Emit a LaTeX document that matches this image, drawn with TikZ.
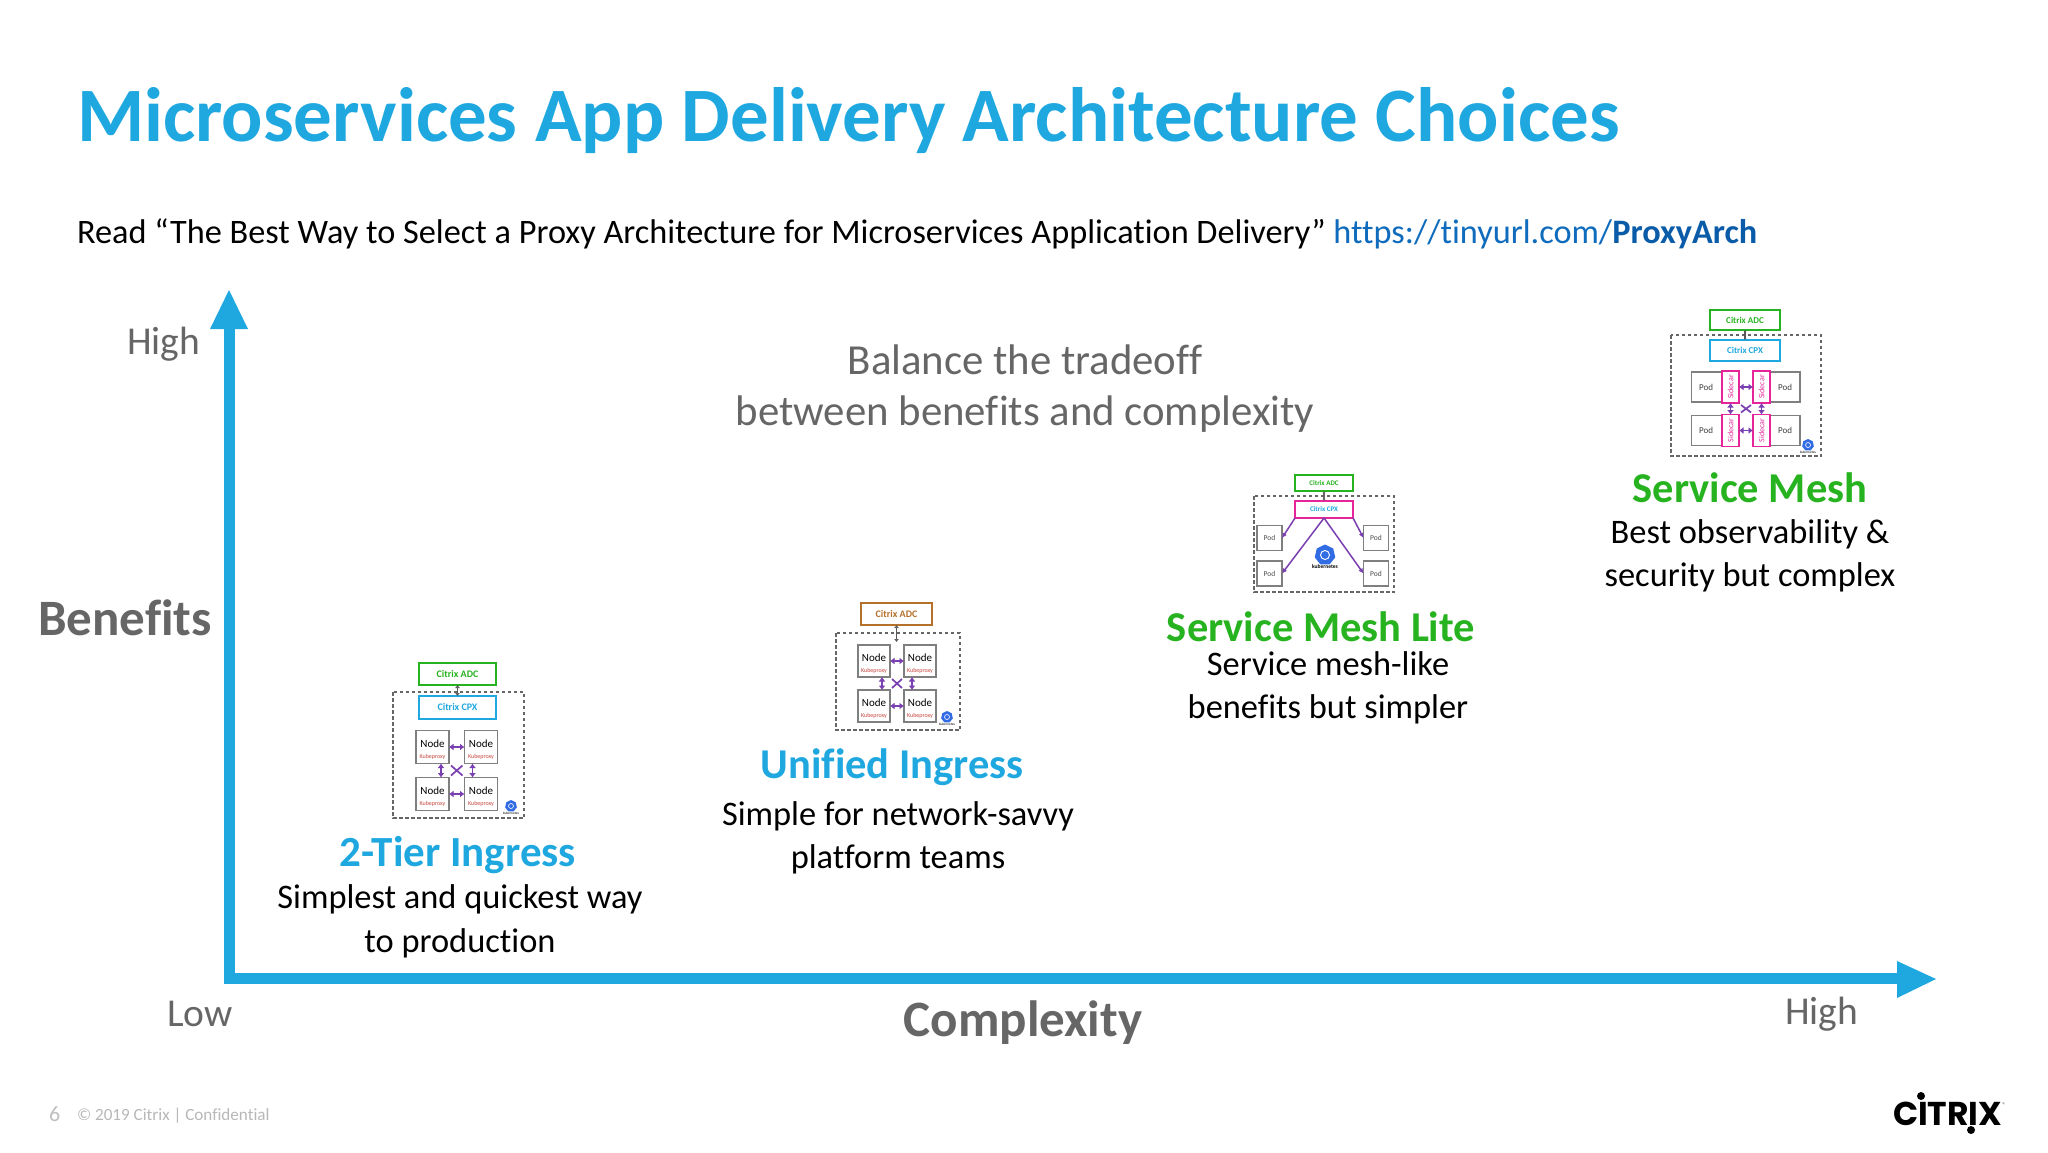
\documentclass[tikz,border=0pt]{standalone}
\usepackage{fontspec}
\setmainfont[Ligatures=CommonOff]{Carlito}
\newfontfamily\logofont{Poppins}
\usetikzlibrary{shapes.geometric,arrows.meta,calc,positioning}
\definecolor{cxblue}{HTML}{1FA8E0}
\definecolor{cxgreen}{HTML}{27B31F}
\definecolor{cxgray}{HTML}{666666}
\definecolor{linkblue}{HTML}{0F6CBD}
\definecolor{linkdark}{HTML}{0A5CA8}
\definecolor{boxgray}{HTML}{7F7F7F}
\definecolor{linkpurple}{HTML}{7A3FB0}
\definecolor{sidepink}{HTML}{E6259B}
\definecolor{k8sblue}{HTML}{326CE5}
\definecolor{adcbrown}{HTML}{B5702A}
\definecolor{kubered}{HTML}{C8443C}
\newcommand{\fsz}[1]{\fontsize{#1}{#1}\selectfont}
\tikzset{
  txt/.style={inner sep=0pt,outer sep=0pt,anchor=base},
  txtw/.style={inner sep=0pt,outer sep=0pt,anchor=base west},
  bodytxt/.style={txt,font=\fsz{34.4},text=black},
  headtxt/.style={txt,font=\fsz{42.5}\bfseries},
  axistxt/.style={txtw,font=\fsz{39.5},text=cxgray},
  axisbold/.style={txt,font=\fsz{51}\bfseries,text=cxgray},
  axisline/.style={draw=cxblue,line width=11pt},
  axishead/.style={fill=cxblue,draw=none},
  mbox/.style={draw,line width=1.7pt,inner sep=0pt,outer sep=0pt,align=center},
  dashbox/.style={draw=black!60,line width=1.4pt,dash pattern=on 3.5pt off 2.5pt},
  vlink/.style={draw=boxgray!70!black,line width=1.7pt,{Latex[length=3pt,width=5pt]}-{Latex[length=3pt,width=5pt]}},
  plink/.style={draw=linkpurple,line width=1.3pt,{Latex[length=4.5pt,width=7pt]}-{Latex[length=4.5pt,width=7pt]}},
  xlink/.style={draw=linkpurple,line width=1.7pt},
  fanlink/.style={draw=linkpurple,line width=1.5pt,-{Latex[length=5pt,width=5pt]}},
  grayb/.style={mbox,draw=boxgray},
  k8s/.style={regular polygon,regular polygon sides=7,fill=k8sblue,inner sep=0pt,outer sep=0pt,minimum size=#1},
  tiny/.style={inner sep=0pt,outer sep=0pt,font=\fsz{#1}},
}
% grid of four Node boxes: prefix, xl, xr, yt, yb, w, h (centres)
\newcommand{\nodegrid}[7]{
  \foreach \nn/\xx/\yy in {tl/#2/#4,tr/#3/#4,bl/#2/#5,br/#3/#5}{
    \node[grayb,minimum width=#6pt,minimum height=#7pt] (#1\nn) at (\xx,\yy)
      {\fsz{11}\rule{0pt}{13pt}Node\\[-1pt]{\fsz{6}\color{kubered}Kubeproxy}};
  }
  \draw[plink] (#1tl) -- (#1tr);
  \draw[plink] (#1bl) -- (#1br);
  \draw[plink] ([xshift=-8pt]#1tl.south east) -- ([xshift=-8pt]#1bl.north east);
  \draw[plink] ([xshift=8pt]#1tr.south west) -- ([xshift=8pt]#1br.north west);
  \draw[xlink] ([shift={(2pt,-2pt)}]#1tl.south east) -- ([shift={(-2pt,2pt)}]#1br.north west);
  \draw[xlink] ([shift={(-2pt,-2pt)}]#1tr.south west) -- ([shift={(2pt,2pt)}]#1bl.north east);
}
% small kubernetes badge: name, x, y
\newcommand{\kbadge}[3]{
  \node[k8s=12pt] (#1) at (#2,#3) {};
  \node[circle,draw=white,line width=.6pt,inner sep=0pt,minimum size=5pt] (#1c) at (#2,#3) {};
  \node[tiny=3.5,below=0.5pt of #1] (#1t) {kubernetes};
}
\begin{document}
\begin{tikzpicture}[x=1pt,y=-1pt]
\useasboundingbox[fill=white] (0,0) rectangle (2048,1152);

% title and subtitle
\node[txtw,font=\fsz{77}\bfseries,text=cxblue] (title) at (77,141) {Microservices App Delivery Architecture Choices};
\node[txtw,font=\fsz{34.3},text=black] (sub) at (77,243) {Read “The Best Way to Select a Proxy Architecture for Microservices Application Delivery” {\color{linkblue}https://tinyurl.com/}{\color{linkdark}\bfseries ProxyArch}};

% axes
\coordinate (origin) at (229,978);
\coordinate (ytop) at (229,320);
\coordinate (xend) at (1905,978);
\draw[axisline,line cap=butt] ($(origin)+(0,5.5)$) -- (ytop);
\draw[axisline,line cap=butt] (origin) -- (xend);
\fill[axishead] (229,290) -- (248,329) -- (210,329) -- cycle;
\fill[axishead] (1936,979) -- (1897,961) -- (1897,998) -- cycle;

\node[axistxt] (yhigh) at (127,354) {High};
\node[axisbold] (benefits) at (125,635) {Benefits};
\node[axistxt] (xlow) at (167,1026) {Low};
\node[axisbold] (complexity) at (1023,1036) {Complexity};
\node[axistxt] (xhigh) at (1785,1024) {High};
\node[txt,font=\fsz{42.8},text=cxgray] (bal1) at (1025,374) {Balance the tradeoff};
\node[txt,font=\fsz{42.8},text=cxgray] (bal2) at (1025,425) {between benefits and complexity};

% 2-Tier Ingress diagram
\draw[dashbox] (393,692) rectangle (524,818);
\node[mbox,draw=cxgreen,minimum width=77pt,minimum height=22pt,font=\fsz{10}\bfseries,text=cxgreen] (aadc) at (457.5,674) {Citrix ADC};
\node[mbox,draw=cxblue,minimum width=77pt,minimum height=23pt,font=\fsz{10}\bfseries,text=cxblue] (acpx) at (457.5,707.5) {Citrix CPX};
\draw[vlink] (aadc) -- (acpx);
\nodegrid{a}{432.5}{481}{747}{794}{33}{33}
\kbadge{ak}{511}{806}

% Unified Ingress diagram
\draw[dashbox] (836,633) rectangle (960,730);
\node[mbox,draw=adcbrown,minimum width=71pt,minimum height=22pt,font=\fsz{10}\bfseries,text=adcbrown] (badc) at (896.5,614) {Citrix ADC};
\coordinate (btop) at (896.5,642);
\draw[vlink] (badc) -- (btop);
\nodegrid{b}{874}{920}{661}{706}{32}{32}
\kbadge{bk}{947}{717}

% Service Mesh Lite diagram
\draw[dashbox] (1254,496) rectangle (1394,592);
\node[mbox,draw=cxgreen,minimum width=58pt,minimum height=16pt,font=\fsz{7}\bfseries,text=cxgreen] (cadc) at (1324,483) {Citrix ADC};
\node[mbox,draw=sidepink,minimum width=58pt,minimum height=17pt,font=\fsz{7}\bfseries,text=cxblue] (ccpx) at (1324,509.5) {Citrix CPX};
\draw[vlink,draw=black!60,{Latex[length=2pt,width=3pt]}-{Latex[length=2pt,width=3pt]}] (cadc) -- (ccpx);
\foreach \nn/\xx/\yy in {ptl/1269.5/538,pbl/1269.5/573.5,ptr/1376/538,pbr/1376/573.5}{
  \node[grayb,minimum width=25pt,minimum height=25pt,font=\fsz{7.5},text=black!70] (c\nn) at (\xx,\yy) {Pod};
}
\draw[fanlink] (ccpx.south west) -- (cptl.east);
\draw[fanlink] (ccpx.south) -- (cpbl.east);
\draw[fanlink] (ccpx.south) -- (cpbr.west);
\draw[fanlink] (ccpx.south east) -- (cptr.west);
\node[k8s=21pt] (ck) at (1325,555) {};
\node[circle,draw=white,line width=.9pt,inner sep=0pt,minimum size=9pt] (ckc) at (1325,555) {};
\node[tiny=5.5,font=\fsz{5.5}\bfseries] (ckt) at (1325,567) {kubernetes};

% Service Mesh diagram
\draw[dashbox] (1671,335) rectangle (1821,456);
\node[mbox,draw=cxgreen,minimum width=70pt,minimum height=20pt,font=\fsz{9}\bfseries,text=cxgreen] (dadc) at (1745,320) {Citrix ADC};
\node[mbox,draw=cxblue,minimum width=70pt,minimum height=21pt,font=\fsz{9}\bfseries,text=cxblue] (dcpx) at (1745,350.5) {Citrix CPX};
\draw[vlink,{Latex[length=2pt,width=3pt]}-{Latex[length=2pt,width=3pt]}] (dadc) -- (dcpx);
\foreach \nn/\xx/\yy/\tx/\sx in {tl/1715/387/1706/1730.5,tr/1776.5/387/1785/1761.5,bl/1715/430.5/1706/1730.5,br/1776.5/430.5/1785/1761.5}{
  \node[grayb,minimum width=47pt,minimum height=30pt] (dp\nn) at (\xx,\yy) {};
  \node[tiny=9,text=black!75] (dl\nn) at (\tx,\yy) {Pod};
  \node[mbox,draw=sidepink,fill=white,minimum width=17pt,minimum height=32pt,font=\fsz{8},text=sidepink] (ds\nn) at (\sx,\yy) {\rotatebox{90}{Sidecar}};
}
\draw[plink] (dstl) -- (dstr);
\draw[plink] (dsbl) -- (dsbr);
\draw[plink] (dstl.south) -- (dsbl.north);
\draw[plink] (dstr.south) -- (dsbr.north);
\draw[xlink] ([shift={(2pt,-2pt)}]dstl.south east) -- ([shift={(-2pt,2pt)}]dsbr.north west);
\draw[xlink] ([shift={(-2pt,-2pt)}]dstr.south west) -- ([shift={(2pt,2pt)}]dsbl.north east);
\kbadge{dk}{1808}{445}

% captions
\node[headtxt,font=\fsz{43}\bfseries,text=cxblue] (h1) at (458,866) {2-Tier Ingress};
\node[bodytxt] (t1a) at (460,908.5) {Simplest and quickest way};
\node[bodytxt] (t1b) at (460,952) {to production};
\node[headtxt,text=cxblue] (h2) at (892,778) {Unified Ingress};
\node[bodytxt] (t2a) at (898,825) {Simple for network-savvy};
\node[bodytxt] (t2b) at (898,868) {platform teams};
\node[headtxt,text=cxgreen] (h3) at (1321,641) {Service Mesh Lite};
\node[bodytxt] (t3a) at (1328,675) {Service mesh-like};
\node[bodytxt] (t3b) at (1328,718) {benefits but simpler};
\node[headtxt,text=cxgreen] (h4) at (1750,502) {Service Mesh};
\node[bodytxt] (t4a) at (1750,543.5) {Best observability \&};
\node[bodytxt] (t4b) at (1750,586) {security but complex};

% footer
\node[txtw,font=\fsz{22},text=black!25] (pg) at (49,1121) {6};
\node[txtw,font=\fsz{17.1},text=black!28] (conf) at (77,1120) {© 2019 Citrix | Confidential};

% logo
\node[txtw,font=\logofont\fsz{33}\bfseries,text=black] (logo) at (1893,1125) {CITRIX};
\fill[black] (1921,1096) circle (4pt);
\fill[black] (1971,1130) circle (4pt);
\node[tiny=7,text=black!60] (reg) at (2004,1105) {®};
\end{tikzpicture}
\end{document}
